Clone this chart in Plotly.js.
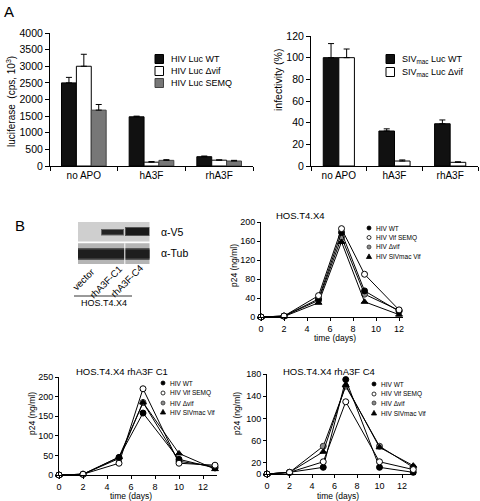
<!DOCTYPE html>
<html>
<head>
<meta charset="utf-8">
<script src="https://cdn.plot.ly/plotly-3.0.1.min.js"></script>
<style>html,body{margin:0;padding:0;background:#fff;}#chart{width:480px;height:501px;}</style>
</head>
<body>
<div id="chart"></div>
<script>
// ---------- DATA ----------
const barCategories = ['no APO', 'hA3F', 'rhA3F'];
const hivLucWT = [2500, 1480, 280];
const hivLucWTErr = [165, 20, 20];
const hivLucDvif = [3000, 115, 175];
const hivLucDvifErr = [360, 20, 10];
const hivLucSEMQ = [1680, 170, 150];
const hivLucSEMQErr = [170, 20, 20];

const sivLucWT = [100, 32.3, 39];
const sivLucWTErr = [13, 2, 3.5];
const sivLucDvif = [100, 4.6, 3.4];
const sivLucDvifErr = [8, 1, 0.5];

const daysHOS = [0, 2, 5, 7, 9, 12];
const hosWT = [0, 2, 38, 178, 55, 12];
const hosSEMQ = [0, 2, 45, 186, 90, 15];
const hosDvif = [0, 2, 35, 168, 48, 14];
const hosSIV = [0, 1, 30, 158, 32, 5];

const daysC = [0, 2, 5, 7, 10, 13];
const c1WT = [0, 2, 45, 158, 40, 18];
const c1SEMQ = [0, 2, 30, 220, 30, 25];
const c1Dvif = [0, 2, 42, 185, 35, 21];
const c1SIV = [0, 2, 46, 185, 55, 15];

const c4WT = [0, 3, 12, 170, 12, 3];
const c4SEMQ = [0, 3, 22, 130, 22, 8];
const c4Dvif = [0, 3, 50, 158, 50, 12];
const c4SIV = [0, 3, 40, 160, 48, 15];

const seriesNames = ['HIV WT', 'HIV Vif SEMQ', 'HIV \u0394vif', 'HIV SIVmac Vif'];
const blotLanes = ['vector', 'rhA3F-C1', 'rhA3F-C4'];

// ---------- LAYOUT HELPERS ----------
const W = 480, H = 501;
const PX = p => p / W;
const PY = p => 1 - p / H;
const dx = (a, b) => [a / W, b / W];
const dy = (top, bottom) => [1 - bottom / H, 1 - top / H];
const FONT = 'Liberation Sans, Arial, Helvetica, sans-serif';

// marker styles per series (WT, SEMQ, dvif, SIVmac)
const mStyles = [
  {symbol: 'circle', size: 6, color: '#000', line: {color: '#000', width: 1}},
  {symbol: 'circle', size: 6, color: '#fff', line: {color: '#000', width: 1}},
  {symbol: 'circle', size: 6, color: '#8a8a8a', line: {color: '#333', width: 1}},
  {symbol: 'triangle-up', size: 6, color: '#000', line: {color: '#000', width: 1}}
];

const traces = [];
function barTrace(y, err, color, lineColor, xa, ya, offset, width, name) {
  return {
    type: 'bar', x: barCategories, y: y, name: name,
    xaxis: xa, yaxis: ya, offset: offset, width: width,
    marker: {color: color, line: {color: lineColor, width: 1}},
    error_y: {type: 'data', symmetric: false, array: err, arrayminus: err.map(() => 0),
              color: '#000', thickness: 1, width: 3},
    showlegend: false
  };
}
traces.push(barTrace(hivLucWT, hivLucWTErr, '#111', '#000', 'x', 'y', -0.33, 0.22, 'HIV Luc WT'));
traces.push(barTrace(hivLucDvif, hivLucDvifErr, '#fff', '#000', 'x', 'y', -0.11, 0.22, 'HIV Luc \u0394vif'));
traces.push(barTrace(hivLucSEMQ, hivLucSEMQErr, '#777', '#444', 'x', 'y', 0.11, 0.22, 'HIV Luc SEMQ'));
traces.push(barTrace(sivLucWT, sivLucWTErr, '#111', '#000', 'x2', 'y2', -0.28, 0.28, 'SIVmac Luc WT'));
traces.push(barTrace(sivLucDvif, sivLucDvifErr, '#fff', '#000', 'x2', 'y2', 0, 0.28, 'SIVmac Luc \u0394vif'));

function lineSet(days, sets, xa, ya) {
  // draw order: dvif, SIV, WT, SEMQ
  [2, 3, 0, 1].forEach(i => {
    traces.push({
      type: 'scatter', mode: 'lines+markers', x: days, y: sets[i], name: seriesNames[i],
      xaxis: xa, yaxis: ya, cliponaxis: false, showlegend: false,
      line: {color: '#000', width: 1}, marker: mStyles[i]
    });
  });
}
lineSet(daysHOS, [hosWT, hosSEMQ, hosDvif, hosSIV], 'x3', 'y3');
lineSet(daysC, [c1WT, c1SEMQ, c1Dvif, c1SIV], 'x4', 'y4');
lineSet(daysC, [c4WT, c4SEMQ, c4Dvif, c4SIV], 'x5', 'y5');

const axBase = {showline: true, linecolor: '#000', linewidth: 1, ticks: 'outside', ticklen: 4,
  tickcolor: '#000', tickwidth: 1, showgrid: false, zeroline: false, fixedrange: true};

const layout = {
  width: W, height: H, margin: {l: 0, r: 0, t: 0, b: 0},
  paper_bgcolor: '#fff', plot_bgcolor: 'rgba(0,0,0,0)',
  font: {family: FONT, color: '#000', size: 10},
  showlegend: false,
  xaxis: Object.assign({}, axBase, {domain: dx(50, 253), anchor: 'y', type: 'category',
    tickson: 'boundaries', tickfont: {size: 10}}),
  yaxis: Object.assign({}, axBase, {domain: dy(33, 166), anchor: 'x', range: [0, 4000],
    dtick: 500, tickfont: {size: 10.5}}),
  xaxis2: Object.assign({}, axBase, {domain: dx(311, 478), anchor: 'y2', type: 'category',
    tickson: 'boundaries', tickfont: {size: 10}}),
  yaxis2: Object.assign({}, axBase, {domain: dy(36, 166), anchor: 'x2', range: [0, 120],
    dtick: 20, tickfont: {size: 10.5}}),
  xaxis3: Object.assign({}, axBase, {domain: dx(261, 402.5), anchor: 'y3', range: [0, 12.3],
    dtick: 2, ticklen: 3, tickfont: {size: 9}}),
  yaxis3: Object.assign({}, axBase, {domain: dy(222, 317), anchor: 'x3', range: [0, 200],
    dtick: 40, ticklen: 3, tickfont: {size: 9}}),
  xaxis4: Object.assign({}, axBase, {domain: dx(59, 217.4), anchor: 'y4', range: [0, 13.2],
    dtick: 2, ticklen: 3, tickfont: {size: 9}}),
  yaxis4: Object.assign({}, axBase, {domain: dy(377, 475), anchor: 'x4', range: [0, 250],
    dtick: 50, ticklen: 3, tickfont: {size: 9}}),
  xaxis5: Object.assign({}, axBase, {domain: dx(267, 415.5), anchor: 'y5', range: [0, 13.2],
    dtick: 2, ticklen: 3, tickfont: {size: 9}}),
  yaxis5: Object.assign({}, axBase, {domain: dy(374, 474), anchor: 'x5', range: [0, 180],
    tickmode: 'array', tickvals: [0, 20, 60, 100, 140, 180], ticklen: 3, tickfont: {size: 9}}),
  annotations: [],
  shapes: []
};

function ann(text, x, y, opts) {
  layout.annotations.push(Object.assign({
    text: text, xref: 'paper', yref: 'paper', x: PX(x), y: PY(y),
    showarrow: false, xanchor: 'center', yanchor: 'middle',
    font: {size: 10, family: FONT, color: '#000'}
  }, opts || {}));
}
function rect(x0, y0, x1, y1, fill, line) {
  layout.shapes.push({type: 'rect', xref: 'paper', yref: 'paper',
    x0: PX(x0), x1: PX(x1), y0: PY(y1), y1: PY(y0), fillcolor: fill,
    line: line || {width: 0}, layer: 'above'});
}

// panel letters
ann('A', 9, 11, {font: {size: 15, family: FONT}});
ann('B', 20, 226, {font: {size: 15, family: FONT}});

// axis titles
ann('luciferase  (cps, 10<sup>3</sup>)', 11, 102, {textangle: -90, font: {size: 10, family: FONT}});
ann('infectivity (%)', 278, 80, {textangle: -90, font: {size: 10.5, family: FONT}});
ann('p24 (ng/ml)', 234, 266, {textangle: -90, font: {size: 8.5, family: FONT}});
ann('p24 (ng/ml)', 32, 414, {textangle: -90, font: {size: 8.5, family: FONT}});
ann('p24 (ng/ml)', 237, 414, {textangle: -90, font: {size: 8.5, family: FONT}});
ann('time (days)', 335, 338, {font: {size: 8.5, family: FONT}});
ann('time (days)', 131, 496, {font: {size: 8.5, family: FONT}});
ann('time (days)', 338, 496, {font: {size: 8.5, family: FONT}});

// chart titles
ann('HOS.T4.X4', 300, 215, {font: {size: 9.5, family: FONT}});
ann('HOS.T4.X4 rhA3F C1', 122, 371, {font: {size: 9.5, family: FONT}});
ann('HOS.T4.X4 rhA3F C4', 329, 371, {font: {size: 9.5, family: FONT}});

// bar legends (swatch + text)
const barLegL = [['HIV Luc WT', '#111', '#000'], ['HIV Luc \u0394vif', '#fff', '#000'], ['HIV Luc SEMQ', '#777', '#444']];
const rowsL = [59, 71, 83];
barLegL.forEach((e, i) => {
  rect(155, rowsL[i] - 4.5, 163.5, rowsL[i] + 4.5, e[1], {color: e[2], width: 1});
  ann(e[0], 169, rowsL[i], {xanchor: 'left', font: {size: 9, family: FONT}});
});
const barLegR = [['SIV<sub>mac</sub> Luc WT', '#111'], ['SIV<sub>mac</sub> Luc \u0394vif', '#fff']];
const rowsR = [59, 72];
barLegR.forEach((e, i) => {
  rect(386, rowsR[i] - 4.5, 394.5, rowsR[i] + 4.5, e[1], {color: '#000', width: 1});
  ann(e[0], 400, rowsR[i], {xanchor: 'left', font: {size: 9, family: FONT}});
});

// line chart legends
function lineLegend(mx, tx, rows) {
  rows.forEach((ry, i) => {
    const st = mStyles[i];
    const base = {xref: 'paper', yref: 'paper', xsizemode: 'pixel', ysizemode: 'pixel',
      xanchor: PX(mx), yanchor: PY(ry), fillcolor: st.color,
      line: {color: st.line.color, width: 0.8}, layer: 'above'};
    if (st.symbol === 'circle') {
      layout.shapes.push(Object.assign({type: 'circle', x0: -2, x1: 2, y0: -2, y1: 2}, base));
    } else {
      layout.shapes.push(Object.assign({type: 'path', path: 'M-2.6,-2 L2.6,-2 L0,2.6 Z'}, base));
    }
    ann(seriesNames[i], tx, ry, {xanchor: 'left', font: {size: 6.5, family: FONT}});
  });
}
lineLegend(369, 374, [228, 237.5, 247, 256.5]);
lineLegend(163, 168, [383, 393, 403, 412]);
lineLegend(374, 379, [384, 394, 403, 413]);

// western blot
rect(78, 222, 149.5, 241.5, '#cfcfcf');
rect(101, 229, 124, 235.5, '#666');
rect(102, 230, 123, 234.5, '#222');
rect(125, 227, 149.5, 236, '#555');
rect(126, 228, 149, 235, '#1a1a1a');
rect(78, 243.3, 149.5, 264, '#b5b5b5');
rect(78, 248, 149.5, 260, '#555');
rect(78, 249.5, 149.5, 258.5, '#1e1e1e');
rect(124.3, 243.3, 125.3, 264, '#ffffff');
ann('\u03b1-V5', 159, 232, {xanchor: 'left', font: {size: 10.5, family: FONT}});
ann('\u03b1-Tub', 159, 253, {xanchor: 'left', font: {size: 10.5, family: FONT}});
const laneCenters = [[83, 279], [105, 282], [126, 281]];
blotLanes.forEach((t, i) => ann(t, laneCenters[i][0], laneCenters[i][1], {textangle: -45, font: {size: 9.5, family: FONT}}));
layout.shapes.push({type: 'line', xref: 'paper', yref: 'paper', x0: PX(74), x1: PX(132), y0: PY(296), y1: PY(296),
  line: {color: '#000', width: 0.8}});
ann('HOS.T4.X4', 104, 303, {font: {size: 9, family: FONT}});

Plotly.newPlot('chart', traces, layout, {staticPlot: true, displayModeBar: false});
</script>
</body>
</html>
